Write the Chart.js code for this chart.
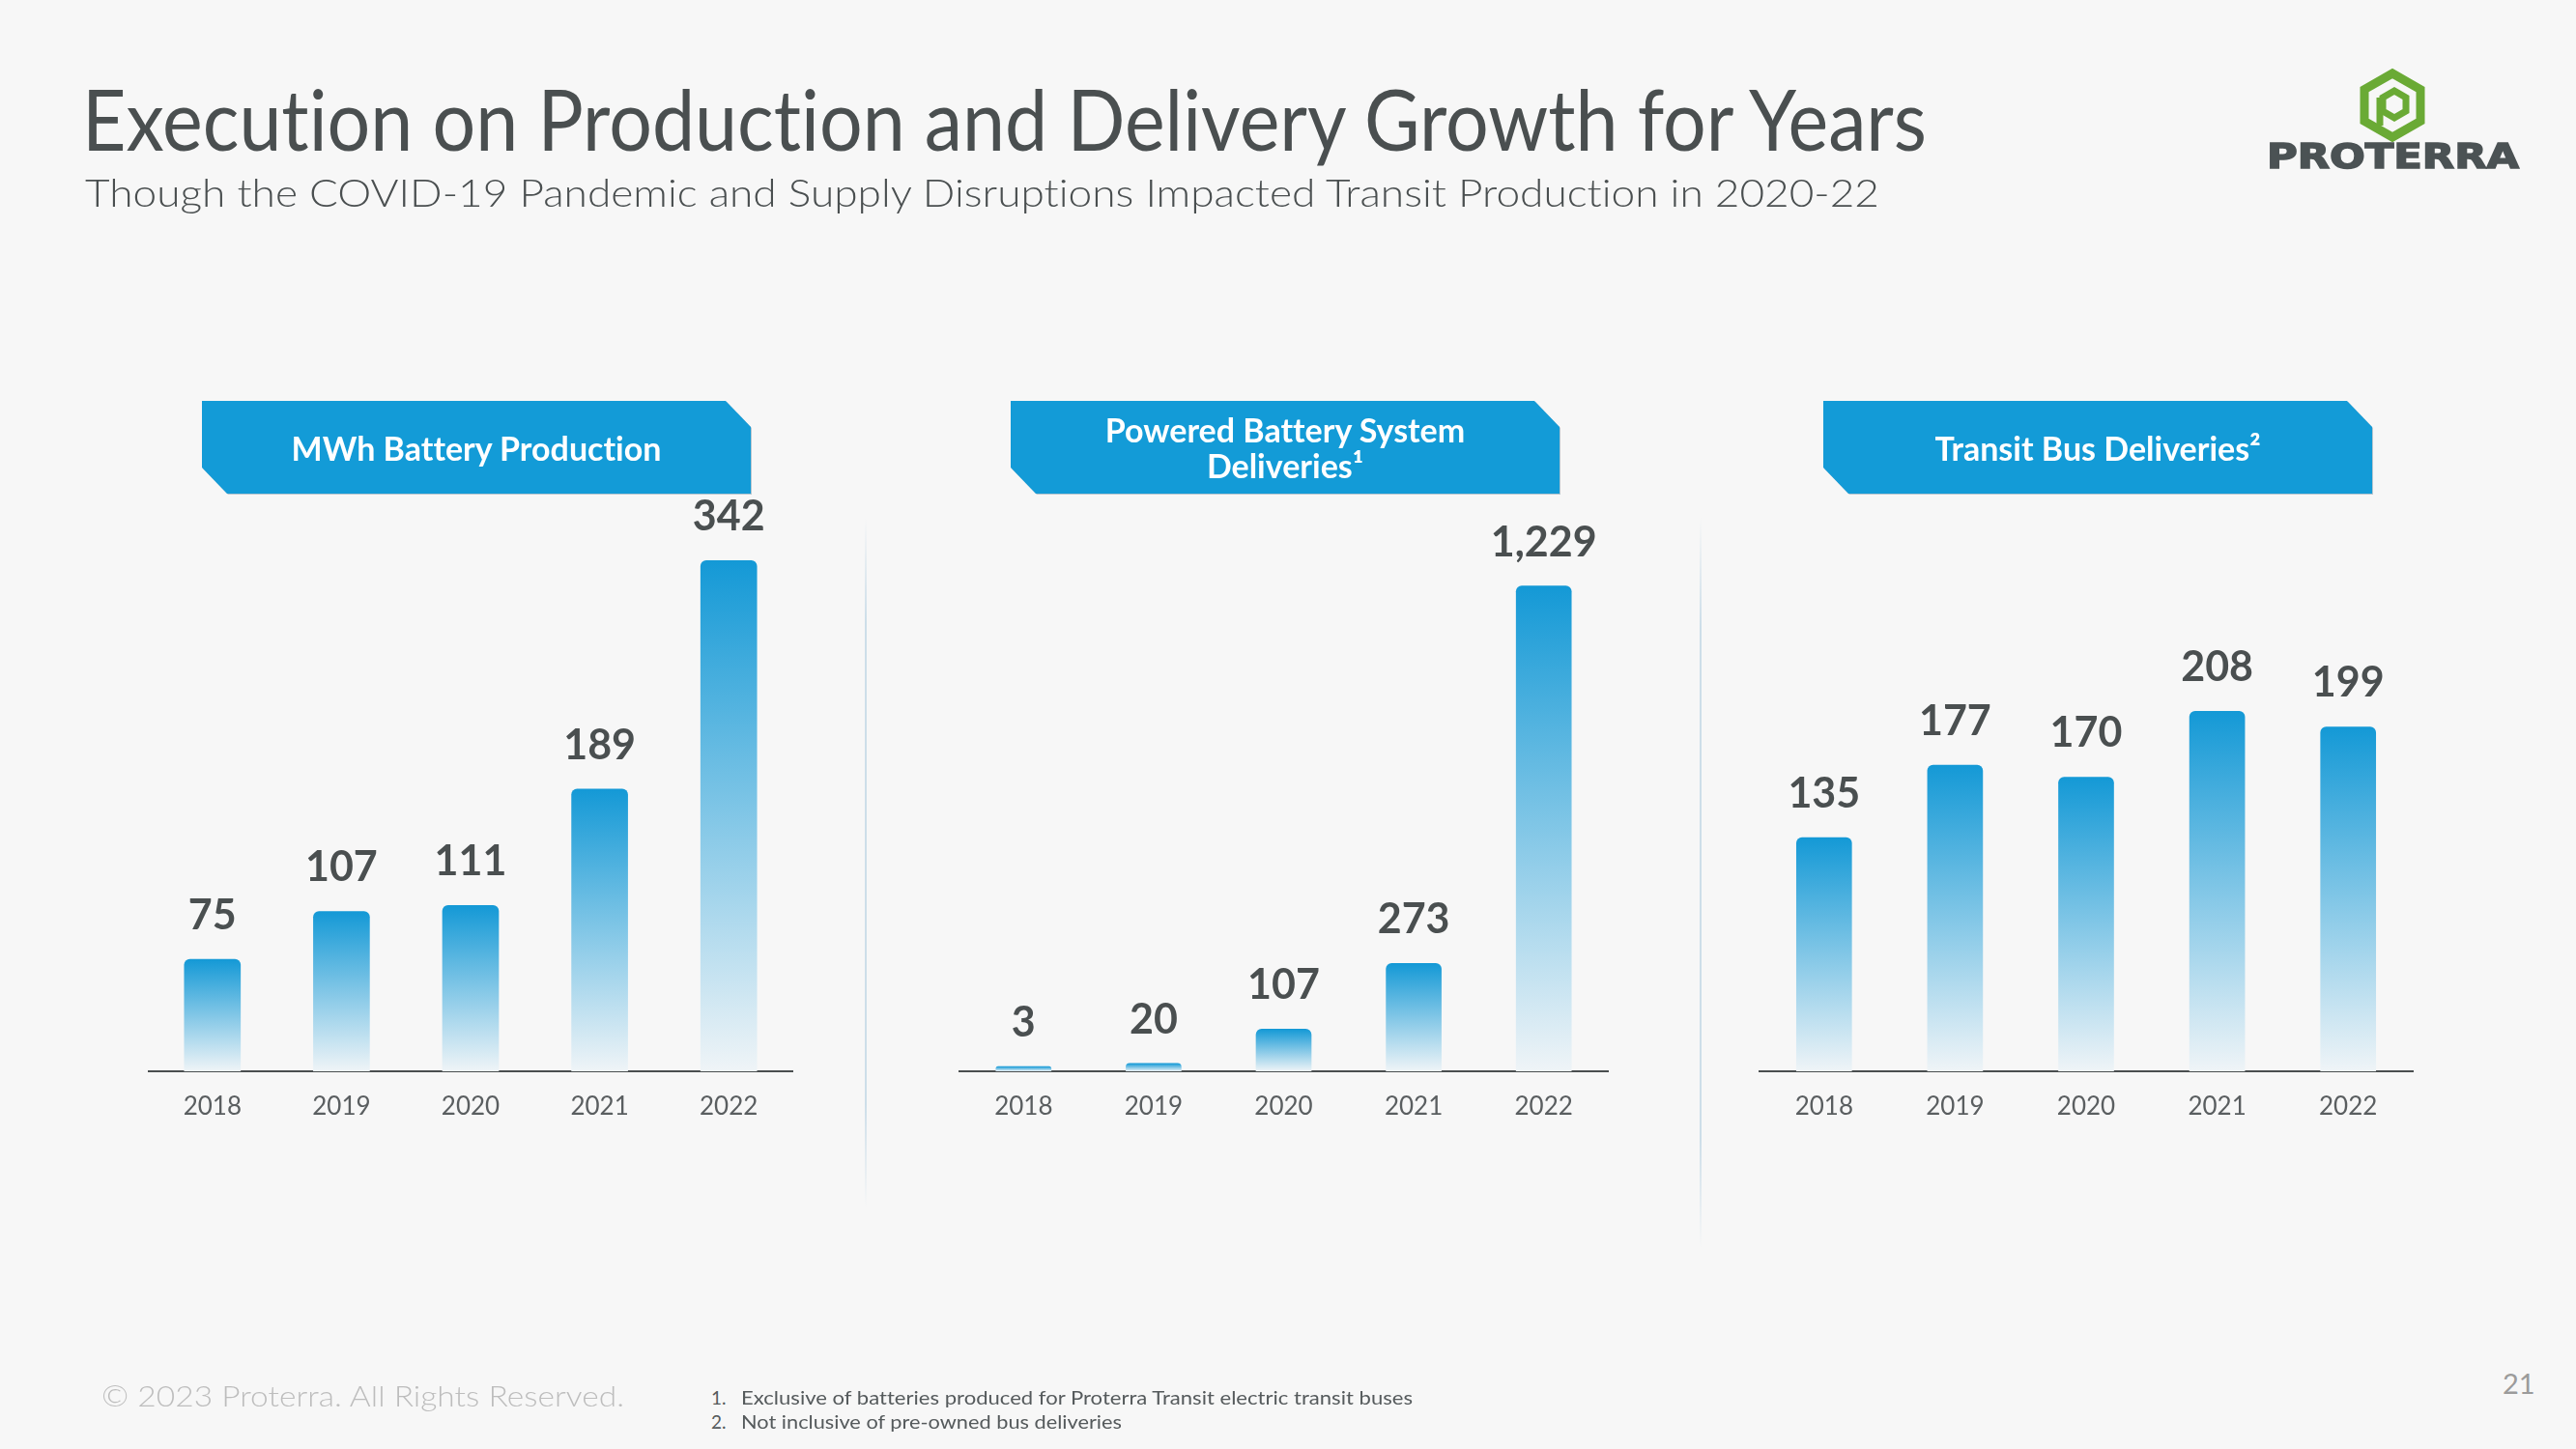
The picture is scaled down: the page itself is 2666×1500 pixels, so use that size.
<!DOCTYPE html>
<html>
<head>
<meta charset="utf-8">
<script src="https://cdn.jsdelivr.net/npm/chart.js@4.4.1/dist/chart.umd.min.js"></script>
<style>
  html, body { margin:0; padding:0; background:#f7f7f7; }
  body { width:2666px; height:1500px; position:relative; overflow:hidden; font-family: Lato, "Open Sans", sans-serif; font-variant-ligatures: none; font-feature-settings: "liga" 0, "clig" 0; }
  .abs { position:absolute; white-space:nowrap; }
  .fit { display:inline-block; transform-origin:left center; }
  #title { left:85px; top:78px; font-size:88px; line-height:88px; color:#4a4f50; font-weight:400; }
  #subtitle { left:88px; top:179px; font-size:40px; line-height:40px; color:#4a4f50; font-weight:300; }
  .hdrwrap { position:absolute; top:415px; width:568px; height:96px; filter: drop-shadow(1px 1px 0 #b9c6ce); }
  .hdr { width:100%; height:100%; background:#139bd7;
    clip-path: polygon(0 0, calc(100% - 26px) 0, 100% 27px, 100% 100%, 26px 100%, 0 calc(100% - 27px));
    display:flex; align-items:center; justify-content:center; text-align:center;
    color:#fff; font-weight:700; font-size:34px; line-height:37px; }
  .sep { position:absolute; width:2px; background:linear-gradient(to bottom, rgba(205,222,233,0), rgba(205,222,233,1) 15%, rgba(205,222,233,1) 85%, rgba(205,222,233,0)); }
  canvas { position:absolute; }
  #copy { left:105px; top:1427px; font-size:30px; line-height:34px; color:#bdbdbd; font-weight:300; }
  .fn { font-size:19px; line-height:22px; color:#555a5c; }
  #pagenum { left:2590px; top:1416px; font-size:29px; line-height:32px; color:#9b9b9b; }
  #logotext { left:2346px; top:143px; font-family:"DejaVu Sans", sans-serif; font-weight:700; font-size:35px; line-height:38px; color:#4b5254; letter-spacing:0px; -webkit-text-stroke:1.5px #4b5254; }
</style>
</head>
<body>
<div id="title" class="abs fit" data-fit="1909">Execution on Production and Delivery Growth for Years</div>
<div id="subtitle" class="abs fit" data-fit="1857">Though the COVID-19 Pandemic and Supply Disruptions Impacted Transit Production in 2020-22</div>

<svg class="abs" style="left:2436px;top:70px" width="80" height="78" viewBox="0 0 80 78">
  <polygon points="40,6 69,22.5 69,55.5 40,72 11,55.5 11,22.5" fill="none" stroke="#6aaa35" stroke-width="9" stroke-linejoin="miter"/>
  <polygon points="42,24 54,31 54,45 42,52 30,45 30,31" fill="none" stroke="#6aaa35" stroke-width="7"/>
  <line x1="27" y1="31" x2="27" y2="60" stroke="#6aaa35" stroke-width="7"/>
</svg>
<div id="logotext" class="abs fit" data-fit="261">PROTERRA</div>

<div class="hdrwrap" style="left:209px"><div class="hdr">MWh Battery Production</div></div>
<div class="hdrwrap" style="left:1046px"><div class="hdr">Powered Battery System<br>Deliveries¹</div></div>
<div class="hdrwrap" style="left:1887px"><div class="hdr">Transit Bus Deliveries²</div></div>

<div class="sep" style="left:895px; top:536px; height:714px"></div>
<div class="sep" style="left:1759px; top:536px; height:756px"></div>

<canvas id="c1" width="668" height="700" style="left:153px; top:500px"></canvas>
<canvas id="c2" width="673" height="700" style="left:992px; top:500px"></canvas>
<canvas id="c3" width="678" height="700" style="left:1820px; top:500px"></canvas>

<div id="copy" class="abs fit" data-fit="541">© 2023 Proterra. All Rights Reserved.</div>
<div class="abs fn" style="left:736px; top:1436px">1.</div>
<div class="abs fn fit" style="left:767px; top:1436px" data-fit="695">Exclusive of batteries produced for Proterra Transit electric transit buses</div>
<div class="abs fn" style="left:736px; top:1461px">2.</div>
<div class="abs fn fit" style="left:767px; top:1461px" data-fit="394">Not inclusive of pre-owned bus deliveries</div>
<div id="pagenum" class="abs">21</div>

<script>
// ---- Data ----
const years = ['2018', '2019', '2020', '2021', '2022'];
const mwhBatteryProduction = [75, 107, 111, 189, 342];
const poweredBatteryDeliveries = [3, 20, 107, 273, 1229];
const transitBusDeliveries = [135, 177, 170, 208, 199];

// fit text widths
document.querySelectorAll('[data-fit]').forEach(el => {
  const target = +el.dataset.fit;
  const w = el.getBoundingClientRect().width;
  if (w > 0) el.style.transform = 'scaleX(' + (target / w) + ')';
});

function barGradient(ctx) {
  const chart = ctx.chart;
  const y = chart.scales && chart.scales.y;
  if (!y || ctx.type !== 'data') return '#1499d6';
  let top = y.getPixelForValue(ctx.raw);
  const bottom = y.getPixelForValue(0);
  if (!isFinite(top) || !isFinite(bottom)) return '#1499d6';
  if (bottom - top < 5) top = bottom - 5;
  const g = chart.ctx.createLinearGradient(0, top, 0, bottom);
  g.addColorStop(0, 'rgb(20,153,214)');
  g.addColorStop(1, 'rgb(239,244,247)');
  return g;
}

const valueLabels = {
  id: 'valueLabels',
  afterDatasetsDraw(chart) {
    const ctx = chart.ctx;
    const meta = chart.getDatasetMeta(0);
    const data = chart.data.datasets[0].data;
    ctx.save();
    ctx.font = '700 43px Lato';
    ctx.fillStyle = '#4a4f50';
    ctx.textAlign = 'center';
    ctx.textBaseline = 'middle';
    meta.data.forEach((el, i) => {
      ctx.fillText(data[i].toLocaleString('en-US'), el.x, el.y - 45);
    });
    ctx.restore();
  }
};

function makeChart(id, values, yMax, thickness) {
  new Chart(document.getElementById(id), {
    type: 'bar',
    data: {
      labels: years,
      datasets: [{
        data: values,
        backgroundColor: barGradient,
        borderRadius: 6,
        borderSkipped: 'start',
        barThickness: thickness,
        minBarLength: 5
      }]
    },
    options: {
      responsive: false,
      animation: false,
      layout: { padding: 0 },
      plugins: { legend: { display: false }, tooltip: { enabled: false } },
      scales: {
        x: {
          grid: { display: false, drawTicks: false },
          border: { display: true, color: '#4a4f50', width: 2 },
          ticks: { color: '#5a5e60', font: { family: 'Lato', size: 26 }, padding: 21 },
          afterFit(scale) { scale.height = 91; }
        },
        y: { display: false, min: 0, max: yMax }
      }
    },
    plugins: [valueLabels]
  });
}

makeChart('c1', mwhBatteryProduction, 394, 58);
makeChart('c2', poweredBatteryDeliveries, 1490, 57);
makeChart('c3', transitBusDeliveries, 340, 57);
</script>
</body>
</html>
